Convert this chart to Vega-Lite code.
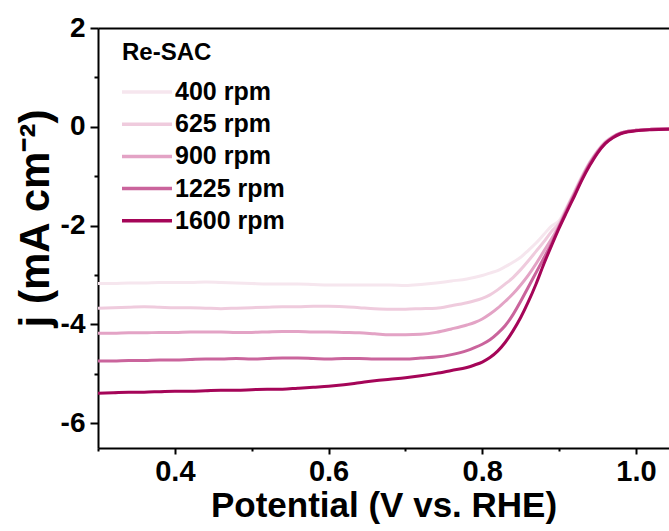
{
  "$schema": "https://vega.github.io/schema/vega-lite/v6.json",
  "width": 571,
  "height": 420,
  "autosize": "none",
  "padding": {"left": 98, "top": 28, "right": 0, "bottom": 83},
  "background": "white",
  "config": {"view": {"stroke": null}, "font": "Liberation Sans"},
  "datasets": {
    "curves": [
      {"x":0.30,"y":-3.17,"s":"400 rpm"},{"x":0.32,"y":-3.17,"s":"400 rpm"},{"x":0.34,"y":-3.16,"s":"400 rpm"},{"x":0.36,"y":-3.16,"s":"400 rpm"},{"x":0.38,"y":-3.15,"s":"400 rpm"},{"x":0.40,"y":-3.15,"s":"400 rpm"},{"x":0.42,"y":-3.15,"s":"400 rpm"},{"x":0.44,"y":-3.14,"s":"400 rpm"},{"x":0.46,"y":-3.15,"s":"400 rpm"},{"x":0.48,"y":-3.16,"s":"400 rpm"},{"x":0.50,"y":-3.17,"s":"400 rpm"},{"x":0.52,"y":-3.18,"s":"400 rpm"},{"x":0.54,"y":-3.18,"s":"400 rpm"},{"x":0.56,"y":-3.18,"s":"400 rpm"},{"x":0.58,"y":-3.19,"s":"400 rpm"},{"x":0.60,"y":-3.20,"s":"400 rpm"},{"x":0.62,"y":-3.20,"s":"400 rpm"},{"x":0.64,"y":-3.20,"s":"400 rpm"},{"x":0.66,"y":-3.20,"s":"400 rpm"},{"x":0.68,"y":-3.20,"s":"400 rpm"},{"x":0.70,"y":-3.21,"s":"400 rpm"},{"x":0.72,"y":-3.19,"s":"400 rpm"},{"x":0.74,"y":-3.16,"s":"400 rpm"},{"x":0.76,"y":-3.12,"s":"400 rpm"},{"x":0.78,"y":-3.08,"s":"400 rpm"},{"x":0.80,"y":-3.01,"s":"400 rpm"},{"x":0.81,"y":-2.96,"s":"400 rpm"},{"x":0.82,"y":-2.91,"s":"400 rpm"},{"x":0.83,"y":-2.83,"s":"400 rpm"},{"x":0.84,"y":-2.74,"s":"400 rpm"},{"x":0.85,"y":-2.64,"s":"400 rpm"},{"x":0.86,"y":-2.50,"s":"400 rpm"},{"x":0.87,"y":-2.35,"s":"400 rpm"},{"x":0.88,"y":-2.18,"s":"400 rpm"},{"x":0.89,"y":-2.01,"s":"400 rpm"},{"x":0.90,"y":-1.90,"s":"400 rpm"},{"x":0.91,"y":-1.62,"s":"400 rpm"},{"x":0.92,"y":-1.31,"s":"400 rpm"},{"x":0.93,"y":-0.99,"s":"400 rpm"},{"x":0.94,"y":-0.71,"s":"400 rpm"},{"x":0.95,"y":-0.48,"s":"400 rpm"},{"x":0.96,"y":-0.30,"s":"400 rpm"},{"x":0.97,"y":-0.19,"s":"400 rpm"},{"x":0.98,"y":-0.12,"s":"400 rpm"},{"x":0.99,"y":-0.09,"s":"400 rpm"},{"x":1.00,"y":-0.07,"s":"400 rpm"},{"x":1.02,"y":-0.05,"s":"400 rpm"},{"x":1.043,"y":-0.04,"s":"400 rpm"},

      {"x":0.30,"y":-3.67,"s":"625 rpm"},{"x":0.32,"y":-3.66,"s":"625 rpm"},{"x":0.34,"y":-3.65,"s":"625 rpm"},{"x":0.36,"y":-3.64,"s":"625 rpm"},{"x":0.38,"y":-3.65,"s":"625 rpm"},{"x":0.40,"y":-3.66,"s":"625 rpm"},{"x":0.42,"y":-3.66,"s":"625 rpm"},{"x":0.44,"y":-3.67,"s":"625 rpm"},{"x":0.46,"y":-3.68,"s":"625 rpm"},{"x":0.48,"y":-3.67,"s":"625 rpm"},{"x":0.50,"y":-3.66,"s":"625 rpm"},{"x":0.52,"y":-3.65,"s":"625 rpm"},{"x":0.54,"y":-3.64,"s":"625 rpm"},{"x":0.56,"y":-3.64,"s":"625 rpm"},{"x":0.58,"y":-3.63,"s":"625 rpm"},{"x":0.60,"y":-3.63,"s":"625 rpm"},{"x":0.62,"y":-3.64,"s":"625 rpm"},{"x":0.64,"y":-3.66,"s":"625 rpm"},{"x":0.66,"y":-3.68,"s":"625 rpm"},{"x":0.68,"y":-3.69,"s":"625 rpm"},{"x":0.70,"y":-3.69,"s":"625 rpm"},{"x":0.72,"y":-3.68,"s":"625 rpm"},{"x":0.74,"y":-3.67,"s":"625 rpm"},{"x":0.76,"y":-3.62,"s":"625 rpm"},{"x":0.78,"y":-3.56,"s":"625 rpm"},{"x":0.79,"y":-3.52,"s":"625 rpm"},{"x":0.80,"y":-3.47,"s":"625 rpm"},{"x":0.81,"y":-3.40,"s":"625 rpm"},{"x":0.82,"y":-3.30,"s":"625 rpm"},{"x":0.83,"y":-3.18,"s":"625 rpm"},{"x":0.84,"y":-3.05,"s":"625 rpm"},{"x":0.85,"y":-2.89,"s":"625 rpm"},{"x":0.86,"y":-2.71,"s":"625 rpm"},{"x":0.87,"y":-2.52,"s":"625 rpm"},{"x":0.88,"y":-2.33,"s":"625 rpm"},{"x":0.89,"y":-2.12,"s":"625 rpm"},{"x":0.90,"y":-1.95,"s":"625 rpm"},{"x":0.91,"y":-1.64,"s":"625 rpm"},{"x":0.92,"y":-1.32,"s":"625 rpm"},{"x":0.93,"y":-1.00,"s":"625 rpm"},{"x":0.94,"y":-0.72,"s":"625 rpm"},{"x":0.95,"y":-0.49,"s":"625 rpm"},{"x":0.96,"y":-0.31,"s":"625 rpm"},{"x":0.97,"y":-0.20,"s":"625 rpm"},{"x":0.98,"y":-0.13,"s":"625 rpm"},{"x":0.99,"y":-0.09,"s":"625 rpm"},{"x":1.00,"y":-0.07,"s":"625 rpm"},{"x":1.02,"y":-0.05,"s":"625 rpm"},{"x":1.043,"y":-0.04,"s":"625 rpm"},

      {"x":0.30,"y":-4.18,"s":"900 rpm"},{"x":0.32,"y":-4.18,"s":"900 rpm"},{"x":0.34,"y":-4.17,"s":"900 rpm"},{"x":0.36,"y":-4.17,"s":"900 rpm"},{"x":0.38,"y":-4.16,"s":"900 rpm"},{"x":0.40,"y":-4.16,"s":"900 rpm"},{"x":0.42,"y":-4.15,"s":"900 rpm"},{"x":0.44,"y":-4.15,"s":"900 rpm"},{"x":0.46,"y":-4.15,"s":"900 rpm"},{"x":0.48,"y":-4.16,"s":"900 rpm"},{"x":0.50,"y":-4.16,"s":"900 rpm"},{"x":0.52,"y":-4.15,"s":"900 rpm"},{"x":0.54,"y":-4.14,"s":"900 rpm"},{"x":0.56,"y":-4.14,"s":"900 rpm"},{"x":0.58,"y":-4.15,"s":"900 rpm"},{"x":0.60,"y":-4.15,"s":"900 rpm"},{"x":0.62,"y":-4.16,"s":"900 rpm"},{"x":0.64,"y":-4.17,"s":"900 rpm"},{"x":0.66,"y":-4.19,"s":"900 rpm"},{"x":0.68,"y":-4.21,"s":"900 rpm"},{"x":0.70,"y":-4.21,"s":"900 rpm"},{"x":0.72,"y":-4.20,"s":"900 rpm"},{"x":0.74,"y":-4.16,"s":"900 rpm"},{"x":0.76,"y":-4.09,"s":"900 rpm"},{"x":0.78,"y":-4.01,"s":"900 rpm"},{"x":0.79,"y":-3.96,"s":"900 rpm"},{"x":0.80,"y":-3.89,"s":"900 rpm"},{"x":0.81,"y":-3.79,"s":"900 rpm"},{"x":0.82,"y":-3.67,"s":"900 rpm"},{"x":0.83,"y":-3.53,"s":"900 rpm"},{"x":0.84,"y":-3.38,"s":"900 rpm"},{"x":0.85,"y":-3.20,"s":"900 rpm"},{"x":0.86,"y":-3.00,"s":"900 rpm"},{"x":0.87,"y":-2.77,"s":"900 rpm"},{"x":0.88,"y":-2.52,"s":"900 rpm"},{"x":0.89,"y":-2.27,"s":"900 rpm"},{"x":0.90,"y":-2.00,"s":"900 rpm"},{"x":0.91,"y":-1.66,"s":"900 rpm"},{"x":0.92,"y":-1.34,"s":"900 rpm"},{"x":0.93,"y":-1.02,"s":"900 rpm"},{"x":0.94,"y":-0.73,"s":"900 rpm"},{"x":0.95,"y":-0.50,"s":"900 rpm"},{"x":0.96,"y":-0.32,"s":"900 rpm"},{"x":0.97,"y":-0.20,"s":"900 rpm"},{"x":0.98,"y":-0.13,"s":"900 rpm"},{"x":0.99,"y":-0.09,"s":"900 rpm"},{"x":1.00,"y":-0.07,"s":"900 rpm"},{"x":1.02,"y":-0.05,"s":"900 rpm"},{"x":1.043,"y":-0.04,"s":"900 rpm"},

      {"x":0.30,"y":-4.74,"s":"1225 rpm"},{"x":0.32,"y":-4.74,"s":"1225 rpm"},{"x":0.34,"y":-4.73,"s":"1225 rpm"},{"x":0.36,"y":-4.73,"s":"1225 rpm"},{"x":0.38,"y":-4.72,"s":"1225 rpm"},{"x":0.40,"y":-4.72,"s":"1225 rpm"},{"x":0.42,"y":-4.71,"s":"1225 rpm"},{"x":0.44,"y":-4.70,"s":"1225 rpm"},{"x":0.46,"y":-4.70,"s":"1225 rpm"},{"x":0.48,"y":-4.69,"s":"1225 rpm"},{"x":0.50,"y":-4.70,"s":"1225 rpm"},{"x":0.52,"y":-4.69,"s":"1225 rpm"},{"x":0.54,"y":-4.68,"s":"1225 rpm"},{"x":0.56,"y":-4.68,"s":"1225 rpm"},{"x":0.58,"y":-4.69,"s":"1225 rpm"},{"x":0.60,"y":-4.70,"s":"1225 rpm"},{"x":0.62,"y":-4.69,"s":"1225 rpm"},{"x":0.64,"y":-4.69,"s":"1225 rpm"},{"x":0.66,"y":-4.70,"s":"1225 rpm"},{"x":0.68,"y":-4.70,"s":"1225 rpm"},{"x":0.70,"y":-4.70,"s":"1225 rpm"},{"x":0.72,"y":-4.68,"s":"1225 rpm"},{"x":0.74,"y":-4.66,"s":"1225 rpm"},{"x":0.76,"y":-4.61,"s":"1225 rpm"},{"x":0.78,"y":-4.53,"s":"1225 rpm"},{"x":0.79,"y":-4.47,"s":"1225 rpm"},{"x":0.80,"y":-4.40,"s":"1225 rpm"},{"x":0.81,"y":-4.31,"s":"1225 rpm"},{"x":0.82,"y":-4.18,"s":"1225 rpm"},{"x":0.83,"y":-4.02,"s":"1225 rpm"},{"x":0.84,"y":-3.80,"s":"1225 rpm"},{"x":0.85,"y":-3.53,"s":"1225 rpm"},{"x":0.86,"y":-3.24,"s":"1225 rpm"},{"x":0.87,"y":-2.95,"s":"1225 rpm"},{"x":0.88,"y":-2.66,"s":"1225 rpm"},{"x":0.89,"y":-2.37,"s":"1225 rpm"},{"x":0.90,"y":-2.02,"s":"1225 rpm"},{"x":0.91,"y":-1.69,"s":"1225 rpm"},{"x":0.92,"y":-1.37,"s":"1225 rpm"},{"x":0.93,"y":-1.04,"s":"1225 rpm"},{"x":0.94,"y":-0.75,"s":"1225 rpm"},{"x":0.95,"y":-0.51,"s":"1225 rpm"},{"x":0.96,"y":-0.33,"s":"1225 rpm"},{"x":0.97,"y":-0.21,"s":"1225 rpm"},{"x":0.98,"y":-0.13,"s":"1225 rpm"},{"x":0.99,"y":-0.09,"s":"1225 rpm"},{"x":1.00,"y":-0.07,"s":"1225 rpm"},{"x":1.02,"y":-0.05,"s":"1225 rpm"},{"x":1.043,"y":-0.04,"s":"1225 rpm"},

      {"x":0.30,"y":-5.39,"s":"1600 rpm"},{"x":0.32,"y":-5.38,"s":"1600 rpm"},{"x":0.34,"y":-5.37,"s":"1600 rpm"},{"x":0.36,"y":-5.37,"s":"1600 rpm"},{"x":0.38,"y":-5.36,"s":"1600 rpm"},{"x":0.40,"y":-5.35,"s":"1600 rpm"},{"x":0.42,"y":-5.35,"s":"1600 rpm"},{"x":0.44,"y":-5.34,"s":"1600 rpm"},{"x":0.46,"y":-5.33,"s":"1600 rpm"},{"x":0.48,"y":-5.33,"s":"1600 rpm"},{"x":0.50,"y":-5.32,"s":"1600 rpm"},{"x":0.52,"y":-5.31,"s":"1600 rpm"},{"x":0.54,"y":-5.31,"s":"1600 rpm"},{"x":0.56,"y":-5.29,"s":"1600 rpm"},{"x":0.58,"y":-5.27,"s":"1600 rpm"},{"x":0.60,"y":-5.25,"s":"1600 rpm"},{"x":0.62,"y":-5.22,"s":"1600 rpm"},{"x":0.64,"y":-5.18,"s":"1600 rpm"},{"x":0.66,"y":-5.14,"s":"1600 rpm"},{"x":0.68,"y":-5.11,"s":"1600 rpm"},{"x":0.70,"y":-5.08,"s":"1600 rpm"},{"x":0.72,"y":-5.04,"s":"1600 rpm"},{"x":0.74,"y":-4.99,"s":"1600 rpm"},{"x":0.76,"y":-4.93,"s":"1600 rpm"},{"x":0.78,"y":-4.87,"s":"1600 rpm"},{"x":0.79,"y":-4.82,"s":"1600 rpm"},{"x":0.80,"y":-4.76,"s":"1600 rpm"},{"x":0.81,"y":-4.67,"s":"1600 rpm"},{"x":0.82,"y":-4.54,"s":"1600 rpm"},{"x":0.83,"y":-4.36,"s":"1600 rpm"},{"x":0.84,"y":-4.13,"s":"1600 rpm"},{"x":0.85,"y":-3.86,"s":"1600 rpm"},{"x":0.86,"y":-3.54,"s":"1600 rpm"},{"x":0.87,"y":-3.18,"s":"1600 rpm"},{"x":0.88,"y":-2.78,"s":"1600 rpm"},{"x":0.89,"y":-2.41,"s":"1600 rpm"},{"x":0.90,"y":-2.05,"s":"1600 rpm"},{"x":0.91,"y":-1.72,"s":"1600 rpm"},{"x":0.92,"y":-1.40,"s":"1600 rpm"},{"x":0.93,"y":-1.07,"s":"1600 rpm"},{"x":0.94,"y":-0.78,"s":"1600 rpm"},{"x":0.95,"y":-0.53,"s":"1600 rpm"},{"x":0.96,"y":-0.34,"s":"1600 rpm"},{"x":0.97,"y":-0.22,"s":"1600 rpm"},{"x":0.98,"y":-0.14,"s":"1600 rpm"},{"x":0.99,"y":-0.10,"s":"1600 rpm"},{"x":1.00,"y":-0.08,"s":"1600 rpm"},{"x":1.02,"y":-0.06,"s":"1600 rpm"},{"x":1.043,"y":-0.05,"s":"1600 rpm"}
    ],
    "frame": [{"x": 0.3}]
  },
  "layer": [
    {
      "data": {"name": "curves"},
      "mark": {"type": "line", "strokeWidth": 3, "clip": true, "interpolate": "monotone"},
      "encoding": {
        "x": {
          "field": "x", "type": "quantitative",
          "scale": {"domain": [0.3, 1.043], "nice": false, "zero": false},
          "axis": {
            "orient": "bottom",
            "values": [0.3, 0.4, 0.5, 0.6, 0.7, 0.8, 0.9, 1.0],
            "labelExpr": "datum.value == 0.4 || datum.value == 0.6 || datum.value == 0.8 || datum.value == 1 ? format(datum.value, '.1f') : ''",
            "tickSize": {"condition": {"test": "datum.value == 0.4 || datum.value == 0.6 || datum.value == 0.8 || datum.value == 1", "value": 6}, "value": 3},
            "tickWidth": 2, "tickColor": "black",
            "domainWidth": 2, "domainColor": "black",
            "grid": false,
            "labelFontSize": 29, "labelFontWeight": "bold", "labelColor": "black", "labelFlush": false, "labelOverlap": false, "labelPadding": 3,
            "title": "Potential (V vs. RHE)", "titleFontSize": 35, "titleFontWeight": "bold", "titleColor": "black", "titlePadding": 2
          }
        },
        "y": {
          "field": "y", "type": "quantitative",
          "scale": {"domain": [-6.5, 2], "nice": false, "zero": false},
          "axis": {
            "values": [2, 1, 0, -1, -2, -3, -4, -5, -6],
            "labelExpr": "datum.value % 2 == 0 ? '' + datum.value : ''",
            "tickSize": {"condition": {"test": "datum.value % 2 == 0", "value": 8}, "value": 4},
            "tickWidth": 2, "tickColor": "black",
            "domainWidth": 2, "domainColor": "black",
            "grid": false,
            "labelFontSize": 28, "labelFontWeight": "bold", "labelColor": "black", "labelOverlap": false, "labelPadding": 5,
            "title": "j (mA cm⁻²)", "titleFontSize": 42, "titleFontWeight": "bold", "titleColor": "black", "titlePadding": 3, "titleY": 190
          }
        },
        "color": {
          "field": "s", "type": "nominal",
          "scale": {
            "domain": ["400 rpm", "625 rpm", "900 rpm", "1225 rpm", "1600 rpm"],
            "range": ["#f6e6ee", "#efcbdd", "#e3a3c5", "#ca649c", "#a50558"]
          },
          "legend": {
            "orient": "none", "legendX": 24, "legendY": 13,
            "title": "Re-SAC", "titleFontSize": 24, "titleFontWeight": "bold", "titleColor": "black", "titlePadding": 14,
            "symbolType": "stroke", "symbolSize": 2704, "symbolStrokeWidth": 3.5, "symbolOffset": -4,
            "clipHeight": 26, "rowPadding": 6.2,
            "labelFontSize": 25, "labelFontWeight": "bold", "labelColor": "black", "labelOffset": 1
          }
        }
      }
    },
    {
      "data": {"name": "frame"},
      "mark": {"type": "rule", "opacity": 0},
      "encoding": {
        "x": {
          "field": "x", "type": "quantitative",
          "axis": {"orient": "top", "labels": false, "ticks": false, "grid": false, "domainWidth": 2, "domainColor": "black", "title": null}
        }
      }
    }
  ],
  "resolve": {"axis": {"x": "independent"}}
}
